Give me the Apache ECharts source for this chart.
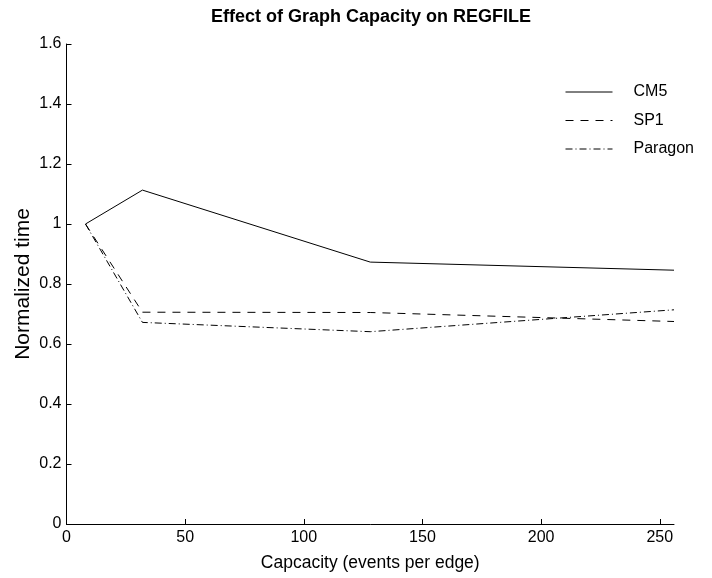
<!DOCTYPE html>
<html>
<head>
<meta charset="utf-8">
<script src="https://cdn.jsdelivr.net/npm/echarts@6/dist/echarts.min.js"></script>
<style>
  html, body { margin: 0; padding: 0; background: #fff; }
  #chart { width: 712px; height: 578px; }
</style>
</head>
<body>
<div id="chart"></div>
<script>
// Graph capacity (events per edge) and normalized run time per machine
const capacity = [8, 32, 128, 256];
const cm5 = [1.0, 1.113, 0.873, 0.846];
const sp1 = [1.0, 0.706, 0.705, 0.675];
const paragon = [1.0, 0.672, 0.641, 0.714];
const xTicks = [0, 50, 100, 150, 200, 250];
const yTicks = [0, 0.2, 0.4, 0.6, 0.8, 1.0, 1.2, 1.4, 1.6];

const FONT = 'Liberation Sans, Arial, Helvetica, sans-serif';
const pairs = ys => capacity.map((c, i) => [c, ys[i]]);

const chart = echarts.init(document.getElementById('chart'), null, { renderer: 'canvas' });
chart.setOption({
  animation: false,
  backgroundColor: '#ffffff',
  title: {
    text: 'Effect of Graph Capacity on REGFILE',
    left: 366, top: 3, textAlign: 'center',
    textStyle: { fontFamily: FONT, fontSize: 18, fontWeight: 'bold', color: '#000' }
  },
  legend: {
    orient: 'vertical', left: 560, top: 79,
    itemWidth: 47, itemHeight: 10, itemGap: 12.5,
    itemStyle: { opacity: 0 },
    lineStyle: { width: 1 },
    textStyle: { fontFamily: FONT, fontSize: 16, color: '#000', padding: [0, 0, 0, 16] },
    data: ['CM5', 'SP1', 'Paragon']
  },
  grid: { left: 66.5, right: 38, top: 44, bottom: 54 },
  xAxis: {
    type: 'value', min: 0, max: 256,
    name: 'Capcacity (events per edge)', nameLocation: 'middle', nameGap: 30,
    nameTextStyle: { fontFamily: FONT, fontSize: 17.5, color: '#000' },
    axisLine: { lineStyle: { color: '#000', width: 1 } },
    axisTick: { inside: true, length: 5, customValues: xTicks, lineStyle: { color: '#000' } },
    axisLabel: { customValues: xTicks, fontFamily: FONT, fontSize: 16, color: '#000', margin: 6 },
    splitLine: { show: false }
  },
  yAxis: {
    type: 'value', min: 0, max: 1.6, interval: 0.2,
    name: 'Normalized time', nameLocation: 'middle', nameGap: 33, nameMoveOverlap: false,
    nameTextStyle: { fontFamily: FONT, fontSize: 21, color: '#000' },
    axisLine: { show: true, lineStyle: { color: '#000', width: 1 } },
    axisTick: { show: true, inside: true, length: 5, customValues: yTicks, lineStyle: { color: '#000' } },
    axisLabel: { customValues: yTicks, fontFamily: FONT, fontSize: 16, color: '#000', margin: 5 },
    splitLine: { show: false }
  },
  series: [
    { name: 'CM5', type: 'line', data: pairs(cm5), symbol: 'none',
      lineStyle: { color: '#000', width: 1, type: 'solid' }, itemStyle: { color: '#000' } },
    { name: 'SP1', type: 'line', data: pairs(sp1), symbol: 'none',
      lineStyle: { color: '#000', width: 1, type: [8, 7] }, itemStyle: { color: '#000' } },
    { name: 'Paragon', type: 'line', data: pairs(paragon), symbol: 'none',
      lineStyle: { color: '#000', width: 1, type: [7, 3, 1, 3] }, itemStyle: { color: '#000' } }
  ]
});
</script>
</body>
</html>
